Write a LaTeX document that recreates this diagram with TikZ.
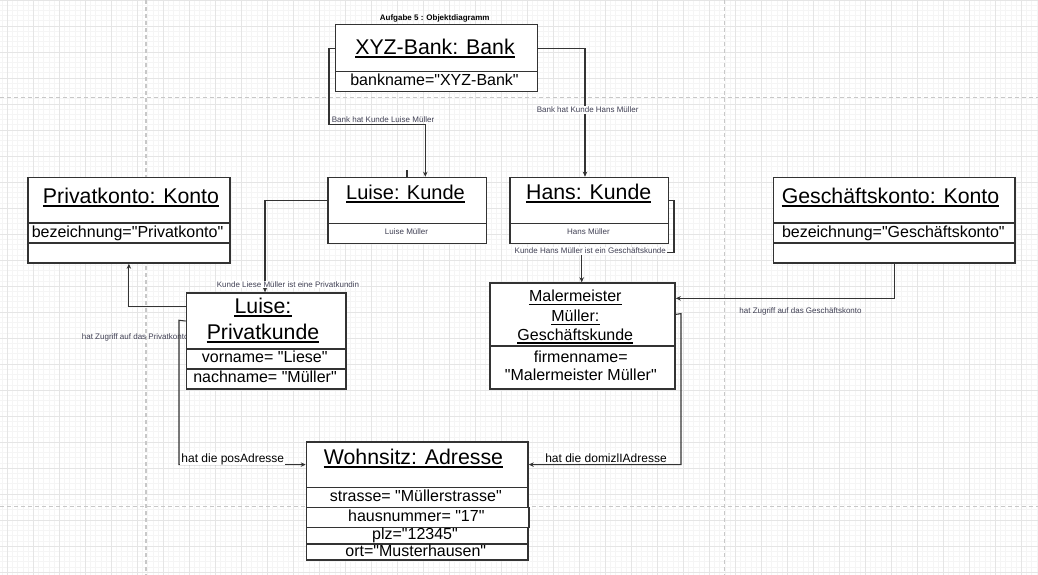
\documentclass[tikz,border=0pt]{standalone}
\usepackage{fontspec}
\setmainfont{Liberation Sans}[Ligatures=TeXOff]
\usetikzlibrary{arrows.meta,calc}
\definecolor{boxc}{RGB}{51,51,51}
\definecolor{lblc}{RGB}{64,64,84}
\definecolor{minorg}{RGB}{245,245,245}
\definecolor{majorg}{RGB}{229,229,229}
\definecolor{pageg}{RGB}{200,200,200}
\newcommand\setfs[1]{\fontsize{#1}{#1}\selectfont}
\begin{document}
\begin{tikzpicture}[x=1pt,y=-1pt,
  box/.style={draw=boxc,line width=1.5pt,fill=white,inner sep=0pt,anchor=north west},
  txt/.style={inner sep=0pt,anchor=base,text=black},
  small/.style={inner sep=0pt,anchor=base,text=lblc,font=\setfs{8}},
  bglbl/.style={inner sep=1pt,anchor=base,fill=white},
  uline/.style={line width=1.7pt,draw=black},
  conn/.style={draw=boxc,line width=1.1pt},
  arr/.style={-{Stealth[length=5pt,width=4.5pt]}},
  minorgrid/.style={draw=minorg,line width=0.6pt},
  majorgrid/.style={draw=majorg,line width=0.8pt},
  pagebreak/.style={draw=pageg,line width=1.2pt,dash pattern=on 4pt off 3pt}
]
\useasboundingbox[fill=white] (0,0) rectangle (1038,575);
% grid
\foreach \i in {0,...,199} \draw[minorgrid] ({2.1+5.2*\i},0) -- ({2.1+5.2*\i},575);
\foreach \j in {0,...,110} \draw[minorgrid] (0,{5.2*\j}) -- (1038,{5.2*\j});
\foreach \i in {0,...,39} \draw[majorgrid] ({7.3+26*\i},0) -- ({7.3+26*\i},575);
\foreach \j in {0,...,22} \draw[majorgrid] (0,{26*\j}) -- (1038,{26*\j});
% page breaks
\draw[pagebreak] (146,0) -- (146,575);
\draw[pagebreak] (724.5,0) -- (724.5,575);
\draw[pagebreak] (0,97.7) -- (1038,97.7);
\draw[pagebreak] (0,506.3) -- (1038,506.3);

% title
\node[txt,font=\bfseries\setfs{8}] (title) at (434.7,20.3) {Aufgabe 5 : Objektdiagramm};

% label hidden partly behind box
\node[small,anchor=base west] (lblpk) at (81.7,339) {hat Zugriff auf das Privatkonto};

% compartments
\node[box,minimum width=202.2pt,minimum height=46.7pt] (bankT) at (334.5,24) {};
\node[box,minimum width=202.2pt,minimum height=20pt] (bankA) at (334.5,70.7) {};

\node[box,minimum width=158.7pt,minimum height=46pt] (lkT) at (327,176.7) {};
\node[box,minimum width=158.7pt,minimum height=20pt] (lkA) at (327,222.7) {};

\node[box,minimum width=158.7pt,minimum height=46pt] (hkT) at (509,176.7) {};
\node[box,minimum width=158.7pt,minimum height=20pt] (hkA) at (509,222.7) {};

\node[box,minimum width=201.7pt,minimum height=45.6pt] (pkoT) at (27.3,176.7) {};
\node[box,minimum width=201.7pt,minimum height=20pt] (pkoA1) at (27.3,222.3) {};
\node[box,minimum width=201.7pt,minimum height=20pt] (pkoA2) at (27.3,242.3) {};

\node[box,minimum width=241.6pt,minimum height=45.6pt] (gkT) at (772.7,176.7) {};
\node[box,minimum width=241.6pt,minimum height=20pt] (gkA1) at (772.7,222.3) {};
\node[box,minimum width=241.6pt,minimum height=20pt] (gkA2) at (772.7,242.3) {};

\node[box,minimum width=159.3pt,minimum height=56pt] (pkT) at (185.7,292.3) {};
\node[box,minimum width=159.3pt,minimum height=20pt] (pkA1) at (185.7,348.3) {};
\node[box,minimum width=159.3pt,minimum height=20pt] (pkA2) at (185.7,368.3) {};

\node[box,minimum width=185pt,minimum height=62.7pt] (mmT) at (489.3,282.3) {};
\node[box,minimum width=185pt,minimum height=43.3pt] (mmA) at (489.3,345) {};

\node[box,minimum width=221.6pt,minimum height=45.7pt] (wT) at (305.7,441) {};
\node[box,minimum width=221.6pt,minimum height=20pt] (wA1) at (305.7,486.7) {};
\node[box,minimum width=222.3pt,minimum height=20pt] (wA2) at (305.7,506.7) {};
\node[box,minimum width=221.6pt,minimum height=16.6pt] (wA3) at (305.7,526.7) {};
\node[box,minimum width=221.6pt,minimum height=16pt] (wA4) at (305.7,543.3) {};

% titles (underlined)
\node[txt,font=\setfs{21.3}] (tBank) at (435,54.3) {XYZ-Bank: Bank};
\node[txt,font=\setfs{20}] (tLK) at (405.5,199.3) {Luise: Kunde};
\node[txt,font=\setfs{21.3}] (tHK) at (588.7,199.3) {Hans: Kunde};
\node[txt,font=\setfs{21.3}] (tPKo) at (131,203.3) {Privatkonto: Konto};
\node[txt,font=\setfs{21.3}] (tGK) at (890.5,203.3) {Geschäftskonto: Konto};
\node[txt,font=\setfs{21.3}] (tPK1) at (263,313.3) {Luise:};
\node[txt,font=\setfs{21.3}] (tPK2) at (263,339.3) {Privatkunde};
\node[txt,font=\setfs{16}] (tMM1) at (575.3,301.7) {Malermeister};
\node[txt,font=\setfs{16}] (tMM2) at (575.3,321.7) {Müller:};
\node[txt,font=\setfs{16}] (tMM3) at (575.3,340) {Geschäftskunde};
\node[txt,font=\setfs{21.3}] (tW) at (413.5,464) {Wohnsitz: Adresse};
\foreach \n in {tBank,tLK,tHK,tPKo,tGK,tPK1,tPK2,tMM1,tMM2,tMM3,tW}
  \draw[uline] ($(\n.base west)+(0,2.8)$) -- ($(\n.base east)+(0,2.8)$);

% attributes
\node[txt,font=\setfs{16}] (aBank) at (434.5,85.5) {bankname="XYZ-Bank"};
\node[small] (aLK) at (406.5,234) {Luise Müller};
\node[small] (aHK) at (588.5,234) {Hans Müller};
\node[txt,font=\setfs{16}] (aPKo) at (127.5,237) {bezeichnung="Privatkonto"};
\node[txt,font=\setfs{16}] (aGK) at (893.3,237.7) {bezeichnung="Geschäftskonto"};
\node[txt,font=\setfs{16}] (aPK1) at (264.7,362.7) {vorname= "Liese"};
\node[txt,font=\setfs{16}] (aPK2) at (265,382.3) {nachname= "Müller"};
\node[txt,font=\setfs{16}] (aMM1) at (580.8,362.7) {firmenname=};
\node[txt,font=\setfs{16}] (aMM2) at (580.8,380.7) {"Malermeister Müller"};
\node[txt,font=\setfs{16}] (aW1) at (415.8,501.7) {strasse= "Müllerstrasse"};
\node[txt,font=\setfs{16}] (aW2) at (416.3,521.7) {hausnummer= "17"};
\node[txt,font=\setfs{16}] (aW3) at (415,539) {plz="12345"};
\node[txt,font=\setfs{16}] (aW4) at (415.8,556) {ort="Musterhausen"};

% connectors
\coordinate (c1) at (329,124.5);
\draw[conn,arr] (bankT.west) -| (c1) -| ($(lkT.north west)+(98.3,0)$);
\draw[conn,arr] (bankT.east) -| ($(hkT.north west)+(76,0)$);
\coordinate (stub) at (407,170);
\draw[conn] (stub) -- (stub |- lkT.north);
\draw[conn,arr] (lkT.west) -| ($(pkT.north west)+(79.3,0)$);
\draw[conn,arr] ($(pkT.north west)!0.25!(pkT.south west)$) -| (pkoA2.south);
\coordinate (c2) at (179,320.3);
\draw[conn,arr] (pkT.west) -- (c2) |- (wT.west);
\coordinate (c3) at (674,252.5);
\draw[conn,arr] (hkT.east) -| (c3) -| ($(mmT.north west)+(92.4,0)$);
\draw[conn,arr] (gkA2.south) |- ($(mmT.north east)!0.25!(mmT.south east)$);
\coordinate (c4) at (681,313.6);
\draw[conn,arr] (mmT.east) -- (c4) |- (wT.east);

% connector labels
\node[small,anchor=base west] (lbl1) at (331.7,122.3) {Bank hat Kunde Luise Müller};
\node[small,bglbl] (lbl2) at (587.7,113) {Bank hat Kunde Hans Müller};
\node[small,bglbl] (lbl3) at (288,287.3) {Kunde Liese Müller ist eine Privatkundin};
\node[small,bglbl] (lbl4) at (590.3,253.7) {Kunde Hans Müller ist ein Geschäftskunde};
\node[small] (lbl5) at (800.5,313) {hat Zugriff auf das Geschäftskonto};
\node[txt,bglbl,font=\setfs{12}] (lbl6) at (232.8,462) {hat die posAdresse};
\node[txt,bglbl,font=\setfs{12}] (lbl7) at (606,462) {hat die domizlIAdresse};
\end{tikzpicture}
\end{document}
